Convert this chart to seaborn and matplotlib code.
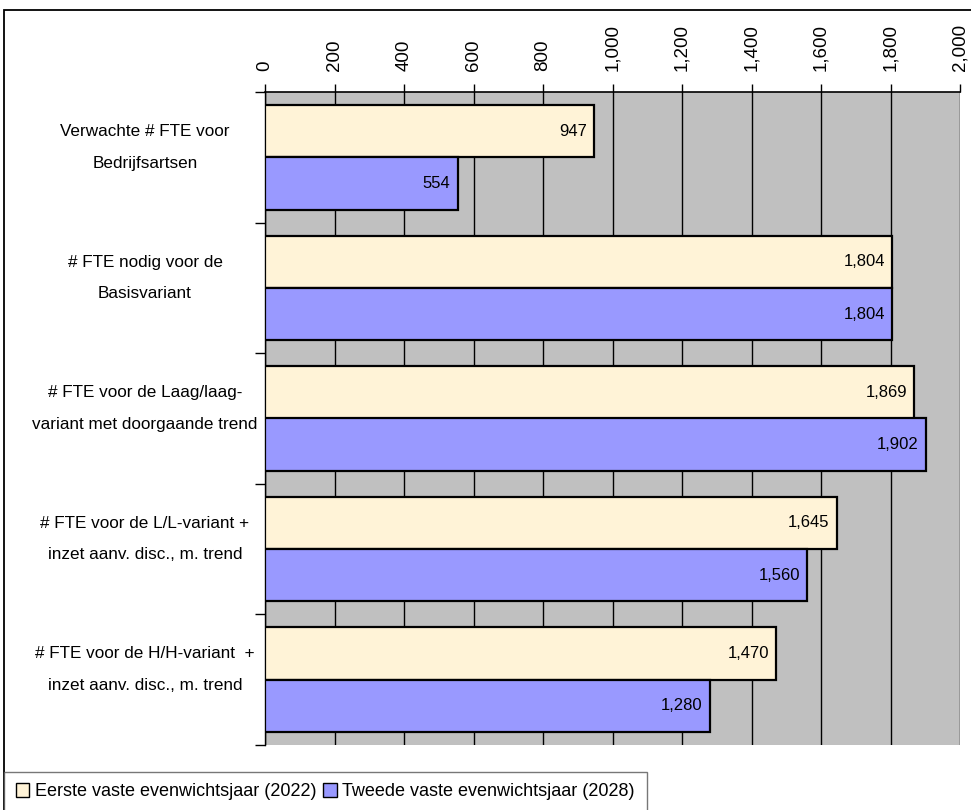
import matplotlib
matplotlib.use("Agg")
import matplotlib.pyplot as plt
import matplotlib.patches as mpatches
import matplotlib.transforms as mtransforms
from matplotlib.ticker import FuncFormatter, MultipleLocator
import seaborn as sns
import pandas as pd

categories = [
    "Verwachte # FTE voor\nBedrijfsartsen",
    "# FTE nodig voor de\nBasisvariant",
    "# FTE voor de Laag/laag-\nvariant met doorgaande trend",
    "# FTE voor de L/L-variant +\ninzet aanv. disc., m. trend",
    "# FTE voor de H/H-variant  +\ninzet aanv. disc., m. trend",
]
series_names = ["Eerste vaste evenwichtsjaar (2022)", "Tweede vaste evenwichtsjaar (2028)"]
values_2022 = [947, 1804, 1869, 1645, 1470]
values_2028 = [554, 1804, 1902, 1560, 1280]
colors = ["#FFF3D7", "#9999FF"]

rows = []
for c, a, b in zip(categories, values_2022, values_2028):
    rows.append({"cat": c, "series": series_names[0], "value": a})
    rows.append({"cat": c, "series": series_names[1], "value": b})
df = pd.DataFrame(rows)

sns.set_theme(style="white")
plt.rcParams["font.family"] = ["Liberation Sans", "DejaVu Sans"]
plt.rcParams["text.color"] = "black"
plt.rcParams["xtick.color"] = "black"
plt.rcParams["ytick.color"] = "black"

fig = plt.figure(figsize=(9.71, 8.10), dpi=100)
ax = fig.add_axes([265 / 971, 1 - 745 / 810, (960 - 265) / 971, (745 - 92) / 810])
ax.set_facecolor("#C0C0C0")

sns.barplot(data=df, y="cat", x="value", hue="series", orient="h",
            palette=colors, saturation=1, edgecolor="black", linewidth=1.6, width=0.8,
            legend=False, ax=ax, zorder=3)

ax.set_xlim(0, 2000)
ax.set_ylim(4.5, -0.5)
ax.xaxis.set_major_locator(MultipleLocator(200))
ax.xaxis.set_major_formatter(FuncFormatter(lambda v, p: f"{v:,.0f}"))
ax.xaxis.tick_top()
ax.tick_params(axis="x", which="major", top=True, bottom=False, direction="out",
               length=6, width=1, color="black", labelsize=13.5, labelrotation=90, pad=9)
for lab in ax.get_xticklabels():
    lab.set_verticalalignment("bottom")
ax.grid(axis="x", color="black", linewidth=1, zorder=0)
ax.set_axisbelow(True)

ax.set_yticks([-0.5, 0.5, 1.5, 2.5, 3.5, 4.5], labels=[""] * 6)
ax.tick_params(axis="y", which="major", left=True, direction="out", length=7, width=1, color="black")

# category labels, centered in the left margin
trans = mtransforms.blended_transform_factory(fig.transFigure, ax.transData)
offset = mtransforms.ScaledTranslation(0, 10 / 100, fig.dpi_scale_trans)
for i, c in enumerate(categories):
    ax.text(145 / 971, i, c, transform=trans + offset, ha="center", va="center",
            multialignment="center", fontsize=12.3, linespacing=2.4, color="black")

ax.set_xlabel("")
ax.set_ylabel("")
for s in ["right", "bottom"]:
    ax.spines[s].set_visible(False)
ax.spines["top"].set_color("black")
ax.spines["top"].set_linewidth(1.2)
ax.spines["left"].set_color("black")
ax.spines["left"].set_linewidth(1.0)

for cont in ax.containers:
    for bar in cont:
        w = bar.get_width()
        ax.text(w - 20, bar.get_y() + bar.get_height() / 2, f"{w:,.0f}",
                ha="right", va="center", fontsize=12, color="black", zorder=5)

handles = [mpatches.Patch(facecolor=c, edgecolor="black", linewidth=1) for c in colors]
leg = fig.legend(handles, series_names, loc="lower left", bbox_to_anchor=(4 / 971, -2 / 810),
                 ncol=2, frameon=True, fancybox=False, fontsize=13, handlelength=0.75,
                 handleheight=0.75, handletextpad=0.3, columnspacing=0.4, borderpad=0.65,
                 borderaxespad=0)
leg.get_frame().set_edgecolor("#555555")
leg.get_frame().set_linewidth(1)

fig.patches.append(mpatches.Rectangle((4 / 971, -0.05), 1.2, 1 - 10 / 810 + 0.05,
                                      transform=fig.transFigure, fill=False,
                                      edgecolor="black", linewidth=1.3))

fig.savefig("out.png", dpi=100, facecolor="white")
